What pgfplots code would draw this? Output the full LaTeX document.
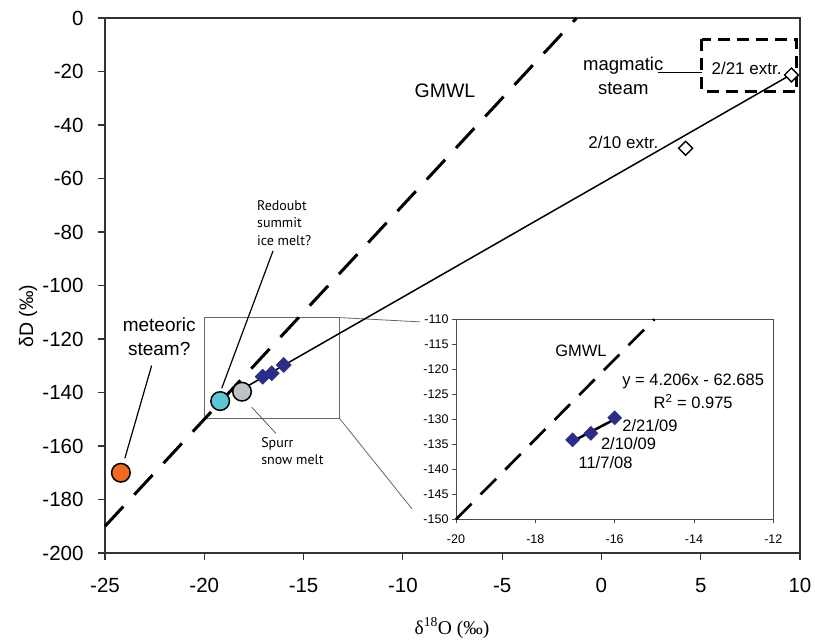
\documentclass[border=0pt]{standalone}
\usepackage{fontspec}
\setmainfont{Liberation Sans}
\newfontfamily\seriffont{Liberation Serif}
\newfontfamily\myriad{PT Sans}
\usepackage{pgfplots}
\pgfplotsset{compat=1.18}
\definecolor{navy}{HTML}{2B2E86}
\definecolor{meteor}{HTML}{F26A21}
\definecolor{icecyan}{HTML}{5CC6D6}
\definecolor{snowgray}{HTML}{BEC2C5}
\begin{document}
\begin{tikzpicture}[x=1pt,y=1pt]
\useasboundingbox (0,0) rectangle (815,640);
\begin{axis}[at={(105pt,87pt)}, anchor=south west, scale only axis, width=695pt, height=535pt,
 xmin=-25,xmax=10,ymin=-200,ymax=0,
 xtick={-25,-20,-15,-10,-5,0,5,10}, xticklabels={-25,-20,-15,-10,-5,0,5,10},
 ytick={-200,-180,-160,-140,-120,-100,-80,-60,-40,-20,0},
 yticklabels={-200,-180,-160,-140,-120,-100,-80,-60,-40,-20,0},
 tick align=outside, xtick pos=bottom, ytick pos=left, major tick length=7pt,
 every tick/.style={black!80, line width=1.2pt}, axis line style={black!80, line width=1.2pt},
 tick label style={font=\fontsize{20.5}{22}\selectfont},
 xticklabel style={yshift=-15pt},
 yticklabel style={xshift=-11pt},
 clip=false]
% zoom box and connectors
\draw[black!60, line width=0.8pt] (axis cs:-20,-112) rectangle (axis cs:-13.2,-149.6);
\draw[black!60, line width=0.8pt] (axis cs:-13.2,-112) -- (axis cs:-9.14,-113.6);
\draw[black!60, line width=0.8pt] (axis cs:-13.2,-149.6) -- (axis cs:-9.54,-183.5);
% GMWL
\addplot[black, line width=3pt, dash pattern=on 27pt off 16pt] coordinates {(-25,-190) (-1.25,0)};
% regression line
\addplot[black, line width=1.5pt] coordinates {(-17.8,-137.5) (9.8,-20.1)};
% annotation leader lines
\draw[black, line width=1.2pt] (axis cs:-22.65,-129.9) -- (axis cs:-24.0,-164.6);
\draw[black, line width=1.2pt] (axis cs:-16.54,-87.1) -- (axis cs:-19.12,-138.4);
\draw[black!70, line width=0.7pt] (axis cs:-16.39,-155.3) -- (axis cs:-17.61,-145.5);
\draw[black, line width=1pt] (axis cs:2.84,-20.2) -- (axis cs:5.06,-20.2);
\draw[black, line width=2.5pt, dash pattern=on 12pt off 7pt] (axis cs:5.05,-8) rectangle (axis cs:9.83,-27.5);
% sample points
\addplot[only marks, mark=square*, mark size=5.4pt, mark options={rotate=45, fill=navy, draw=navy}] coordinates {(-17.06,-134.1) (-16.6,-132.8) (-16.0,-129.7)};
\addplot[only marks, mark=square*, mark size=4.9pt, mark options={rotate=45, fill=white, draw=black, line width=1.4pt}] coordinates {(4.24,-48.7) (9.57,-21.3)};
\addplot[only marks, mark=*, mark size=9.3pt, mark options={fill=meteor, draw=black, line width=1.5pt}] coordinates {(-24.2,-170)};
\addplot[only marks, mark=*, mark size=9.3pt, mark options={fill=icecyan, draw=black, line width=1.5pt}] coordinates {(-19.2,-143.2)};
\addplot[only marks, mark=*, mark size=9.3pt, mark options={fill=snowgray, draw=black, line width=1.5pt}] coordinates {(-18.1,-139.7)};
% texts
\node[anchor=base, font=\fontsize{19.5}{20}\selectfont] at (axis cs:-7.88,-29.6) {GMWL};
\node[anchor=base, font=\fontsize{18.5}{20}\selectfont] at (axis cs:1.10,-19.8) {magmatic};
\node[anchor=base, font=\fontsize{18.5}{20}\selectfont] at (axis cs:1.10,-28.5) {steam};
\node[anchor=base, font=\fontsize{17}{20}\selectfont] at (axis cs:7.31,-21.3) {2/21 extr.};
\node[anchor=base, font=\fontsize{17}{20}\selectfont] at (axis cs:1.10,-48.7) {2/10 extr.};
\node[anchor=base, font=\fontsize{19}{20}\selectfont] at (axis cs:-22.27,-117.3) {meteoric};
\node[anchor=base, font=\fontsize{19}{20}\selectfont] at (axis cs:-22.27,-126.0) {steam?};
\node[anchor=base west, inner sep=0, font=\myriad\fontsize{14}{16}\selectfont] at (axis cs:-17.35,-72.1) {Redoubt};
\node[anchor=base west, inner sep=0, font=\myriad\fontsize{14}{16}\selectfont] at (axis cs:-17.35,-78.5) {summit};
\node[anchor=base west, inner sep=0, font=\myriad\fontsize{14}{16}\selectfont] at (axis cs:-17.35,-84.9) {ice melt?};
\node[anchor=base west, inner sep=0, font=\myriad\fontsize{14}{16}\selectfont] at (axis cs:-17.14,-160.7) {Spurr};
\node[anchor=base west, inner sep=0, font=\myriad\fontsize{14}{16}\selectfont] at (axis cs:-17.14,-167.1) {snow melt};
\end{axis}
% inset
\begin{axis}[at={(456pt,120.7pt)}, anchor=south west, scale only axis, width=317.3pt, height=200pt,
 xmin=-20,xmax=-12,ymin=-150,ymax=-110,
 xtick={-20,-18,-16,-14,-12}, xticklabels={-20,-18,-16,-14,-12},
 ytick={-150,-145,-140,-135,-130,-125,-120,-115,-110},
 yticklabels={-150,-145,-140,-135,-130,-125,-120,-115,-110},
 tick align=outside, xtick pos=bottom, ytick pos=left, major tick length=4pt,
 every tick/.style={black!70, line width=0.8pt}, axis line style={black!70, line width=0.8pt},
 tick label style={font=\fontsize{12.5}{14}\selectfont},
 xticklabel style={yshift=-8pt},
 axis background/.style={fill=white},
 clip=false]
\addplot[black, line width=2.7pt, dash pattern=on 22pt off 13pt] coordinates {(-20,-150) (-15,-110)};
\addplot[black, line width=2.5pt] coordinates {(-17.06,-134.4) (-16.0,-130.0)};
\addplot[only marks, mark=square*, mark size=5pt, mark options={rotate=45, fill=navy, draw=navy}] coordinates {(-17.06,-134.1) (-16.6,-132.8) (-16.0,-129.7)};
\node[anchor=base, font=\fontsize{16.5}{18}\selectfont] at (axis cs:-16.85,-117.5) {GMWL};
\node[anchor=base, font=\fontsize{16.5}{18}\selectfont] at (axis cs:-14.02,-123.3) {y = 4.206x - 62.685};
\node[anchor=base, font=\fontsize{16.5}{18}\selectfont] at (axis cs:-14.02,-127.8) {R\textsuperscript{2} = 0.975};
\node[anchor=base, font=\fontsize{16.5}{18}\selectfont] at (axis cs:-15.11,-132.5) {2/21/09};
\node[anchor=base, font=\fontsize{16.5}{18}\selectfont] at (axis cs:-15.65,-136.1) {2/10/09};
\node[anchor=base, font=\fontsize{16.5}{18}\selectfont] at (axis cs:-16.23,-139.8) {11/7/08};
\end{axis}
\node[font=\seriffont\fontsize{19.5}{20}\selectfont] at (452,12) {δ\textsuperscript{18}O (‰)};
\node[rotate=90, font=\fontsize{19.5}{20}\selectfont] at (28,324) {δD (‰)};
\end{tikzpicture}
\end{document}
